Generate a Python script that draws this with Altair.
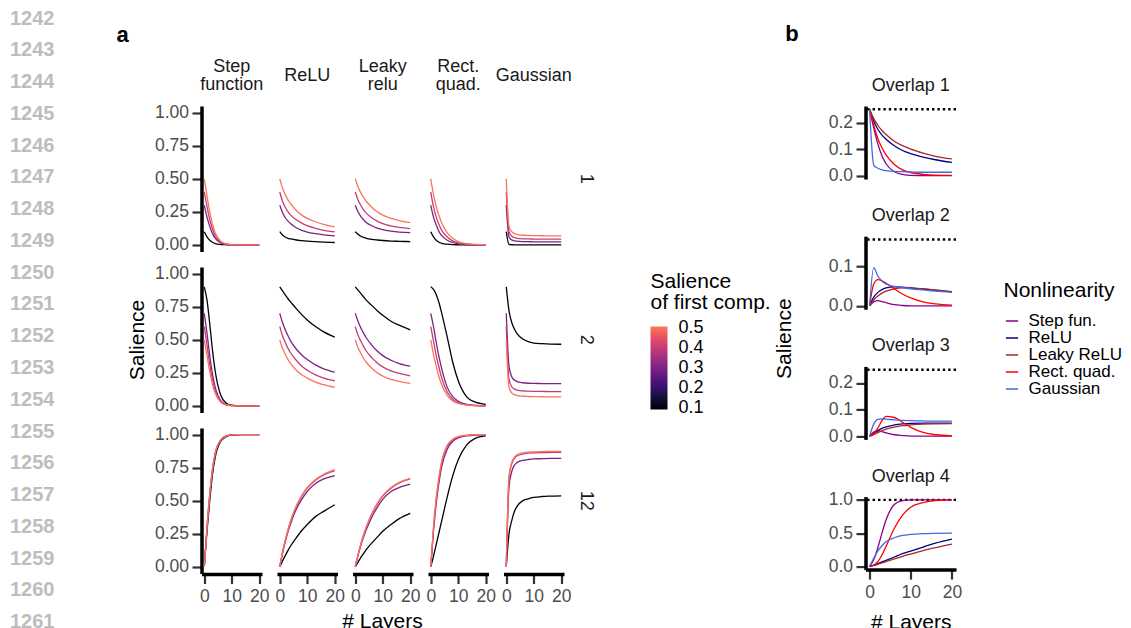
import altair as alt
import pandas as pd

# ---------------- data ----------------
LAYERS = [0, 1, 2, 3, 4, 6, 8, 10, 13, 16, 20]
FIRST_SALIENCE = [0.1, 0.3, 0.4, 0.5]
ZW = "\u200b"  # zero-width filler line so every header label is three lines tall
NONLIN_A = [f"Step|{ZW}|function", f"{ZW}|ReLU|{ZW}", f"Leaky|{ZW}|relu",
            f"Rect.|{ZW}|quad.", f"{ZW}|Gaussian|{ZW}"]
OVERLAP_A = ["1", "2", "12"]
LINE_NUMBERS = list(range(1242, 1262))

# each panel: one list per first-component salience (0.1, 0.3, 0.4, 0.5)
step_1 = [[0.10, 0.06, 0.035, 0.02, 0.01, 0.003, 0.001, 0, 0, 0, 0],
          [0.30, 0.21, 0.14, 0.085, 0.05, 0.015, 0.004, 0.001, 0, 0, 0],
          [0.40, 0.29, 0.19, 0.12, 0.07, 0.02, 0.005, 0.001, 0, 0, 0],
          [0.50, 0.37, 0.25, 0.155, 0.09, 0.028, 0.007, 0.002, 0, 0, 0]]
relu_1 = [[0.10, 0.075, 0.06, 0.05, 0.045, 0.037, 0.032, 0.028, 0.024, 0.021, 0.018],
          [0.30, 0.245, 0.205, 0.18, 0.16, 0.13, 0.11, 0.097, 0.085, 0.076, 0.068],
          [0.40, 0.33, 0.285, 0.25, 0.225, 0.19, 0.165, 0.145, 0.125, 0.11, 0.098],
          [0.50, 0.43, 0.38, 0.34, 0.31, 0.26, 0.225, 0.20, 0.175, 0.155, 0.136]]
leaky_1 = [[0.10, 0.08, 0.065, 0.056, 0.05, 0.042, 0.037, 0.033, 0.029, 0.027, 0.025],
           [0.30, 0.25, 0.215, 0.19, 0.17, 0.145, 0.127, 0.115, 0.104, 0.097, 0.093],
           [0.40, 0.34, 0.30, 0.265, 0.24, 0.205, 0.18, 0.16, 0.143, 0.132, 0.123],
           [0.50, 0.44, 0.395, 0.36, 0.33, 0.285, 0.25, 0.225, 0.20, 0.183, 0.168]]
rect_1 = [[0.10, 0.06, 0.035, 0.02, 0.012, 0.005, 0.002, 0.001, 0, 0, 0],
          [0.30, 0.21, 0.15, 0.10, 0.07, 0.035, 0.018, 0.008, 0.003, 0.001, 0],
          [0.40, 0.29, 0.21, 0.155, 0.11, 0.06, 0.03, 0.015, 0.006, 0.002, 0],
          [0.50, 0.38, 0.29, 0.22, 0.165, 0.09, 0.05, 0.025, 0.01, 0.004, 0.001]]
gauss_1 = [[0.10, 0.003, 0.001, 0, 0, 0, 0, 0, 0, 0, 0],
           [0.30, 0.06, 0.038, 0.031, 0.028, 0.025, 0.024, 0.023, 0.023, 0.023, 0.023],
           [0.40, 0.10, 0.065, 0.055, 0.05, 0.046, 0.045, 0.044, 0.043, 0.043, 0.043],
           [0.50, 0.14, 0.10, 0.085, 0.078, 0.073, 0.071, 0.07, 0.069, 0.068, 0.068]]

step_2 = [[0.90, 0.80, 0.62, 0.42, 0.26, 0.08, 0.02, 0.005, 0, 0, 0],
          [0.70, 0.55, 0.38, 0.24, 0.14, 0.04, 0.01, 0.002, 0, 0, 0],
          [0.60, 0.46, 0.31, 0.20, 0.115, 0.033, 0.008, 0.002, 0, 0, 0],
          [0.50, 0.38, 0.26, 0.16, 0.095, 0.027, 0.007, 0.002, 0, 0, 0]]
relu_2 = [[0.90, 0.87, 0.84, 0.81, 0.785, 0.735, 0.69, 0.65, 0.60, 0.56, 0.52],
          [0.70, 0.63, 0.575, 0.53, 0.49, 0.43, 0.385, 0.35, 0.31, 0.28, 0.255],
          [0.60, 0.53, 0.48, 0.435, 0.40, 0.345, 0.30, 0.27, 0.235, 0.21, 0.19],
          [0.50, 0.435, 0.39, 0.35, 0.32, 0.27, 0.235, 0.21, 0.18, 0.16, 0.14]]
leaky_2 = [[0.90, 0.875, 0.85, 0.825, 0.80, 0.76, 0.72, 0.685, 0.64, 0.61, 0.575],
           [0.70, 0.64, 0.59, 0.55, 0.515, 0.46, 0.415, 0.38, 0.345, 0.32, 0.30],
           [0.60, 0.535, 0.49, 0.45, 0.415, 0.365, 0.325, 0.295, 0.265, 0.245, 0.227],
           [0.50, 0.44, 0.40, 0.36, 0.33, 0.285, 0.25, 0.225, 0.20, 0.185, 0.17]]
rect_2 = [[0.90, 0.88, 0.84, 0.78, 0.70, 0.52, 0.33, 0.19, 0.07, 0.03, 0.012],
          [0.70, 0.60, 0.48, 0.37, 0.28, 0.14, 0.07, 0.035, 0.012, 0.004, 0.001],
          [0.60, 0.49, 0.38, 0.29, 0.21, 0.105, 0.05, 0.025, 0.008, 0.003, 0],
          [0.50, 0.39, 0.30, 0.22, 0.16, 0.08, 0.038, 0.018, 0.006, 0.002, 0]]
gauss_2 = [[0.90, 0.72, 0.63, 0.58, 0.545, 0.505, 0.485, 0.475, 0.47, 0.467, 0.466],
           [0.70, 0.30, 0.22, 0.195, 0.183, 0.175, 0.171, 0.17, 0.169, 0.168, 0.168],
           [0.60, 0.20, 0.145, 0.127, 0.119, 0.113, 0.111, 0.11, 0.109, 0.108, 0.108],
           [0.50, 0.14, 0.098, 0.085, 0.078, 0.073, 0.071, 0.07, 0.069, 0.068, 0.068]]

step_12 = [[0, 0.27, 0.50, 0.70, 0.83, 0.95, 0.985, 0.997, 1, 1, 1],
           [0, 0.29, 0.54, 0.73, 0.855, 0.958, 0.99, 0.998, 1, 1, 1],
           [0, 0.30, 0.55, 0.74, 0.86, 0.96, 0.99, 0.998, 1, 1, 1],
           [0, 0.30, 0.55, 0.74, 0.86, 0.96, 0.99, 0.998, 1, 1, 1]]
relu_12 = [[0, 0.045, 0.085, 0.125, 0.16, 0.22, 0.275, 0.32, 0.38, 0.42, 0.47],
           [0, 0.10, 0.19, 0.265, 0.33, 0.435, 0.51, 0.57, 0.63, 0.665, 0.69],
           [0, 0.11, 0.20, 0.28, 0.35, 0.455, 0.535, 0.595, 0.655, 0.695, 0.728],
           [0, 0.11, 0.20, 0.28, 0.35, 0.46, 0.54, 0.60, 0.66, 0.70, 0.735]]
leaky_12 = [[0, 0.035, 0.07, 0.10, 0.13, 0.18, 0.225, 0.27, 0.32, 0.365, 0.405],
            [0, 0.085, 0.16, 0.225, 0.28, 0.375, 0.45, 0.51, 0.57, 0.60, 0.625],
            [0, 0.09, 0.17, 0.24, 0.30, 0.40, 0.475, 0.535, 0.595, 0.635, 0.665],
            [0, 0.09, 0.17, 0.24, 0.30, 0.40, 0.48, 0.54, 0.60, 0.64, 0.67]]
rect_12 = [[0, 0.08, 0.17, 0.26, 0.35, 0.53, 0.69, 0.81, 0.92, 0.97, 0.99],
           [0, 0.27, 0.48, 0.64, 0.76, 0.89, 0.95, 0.975, 0.99, 0.997, 1],
           [0, 0.29, 0.51, 0.67, 0.79, 0.91, 0.96, 0.982, 0.994, 0.998, 1],
           [0, 0.30, 0.52, 0.68, 0.80, 0.92, 0.965, 0.985, 0.995, 1, 1]]
gauss_12 = [[0, 0.25, 0.35, 0.42, 0.46, 0.50, 0.515, 0.525, 0.532, 0.535, 0.537],
            [0, 0.60, 0.72, 0.77, 0.79, 0.805, 0.812, 0.816, 0.818, 0.82, 0.82],
            [0, 0.67, 0.78, 0.82, 0.84, 0.853, 0.86, 0.862, 0.864, 0.865, 0.866],
            [0, 0.68, 0.79, 0.83, 0.85, 0.862, 0.868, 0.87, 0.872, 0.873, 0.874]]

PANELS_A = {
    "1": [step_1, relu_1, leaky_1, rect_1, gauss_1],
    "2": [step_2, relu_2, leaky_2, rect_2, gauss_2],
    "12": [step_12, relu_12, leaky_12, rect_12, gauss_12],
}

# panel b: one list per nonlinearity
NONLIN_B = ["Step fun.", "ReLU", "Leaky ReLU", "Rect. quad.", "Gaussian"]
COLORS_B = ["#8B008B", "#00008B", "#A52A2A", "#FF0000", "#4169E1"]
overlap1_b = [[0.25, 0.18, 0.12, 0.075, 0.045, 0.015, 0.005, 0.001, 0, 0, 0],
              [0.25, 0.205, 0.175, 0.153, 0.137, 0.113, 0.095, 0.083, 0.07, 0.06, 0.05],
              [0.25, 0.215, 0.19, 0.17, 0.155, 0.13, 0.113, 0.1, 0.085, 0.073, 0.063],
              [0.25, 0.19, 0.14, 0.105, 0.078, 0.042, 0.022, 0.012, 0.005, 0.002, 0.001],
              [0.25, 0.04, 0.028, 0.022, 0.019, 0.016, 0.015, 0.014, 0.013, 0.013, 0.013]]
overlap2_b = [[0, 0.01, 0.013, 0.011, 0.008, 0.003, 0.001, 0, 0, 0, 0],
              [0, 0.022, 0.034, 0.041, 0.045, 0.048, 0.047, 0.045, 0.042, 0.039, 0.035],
              [0, 0.015, 0.025, 0.032, 0.037, 0.043, 0.045, 0.045, 0.043, 0.04, 0.036],
              [0, 0.055, 0.066, 0.063, 0.057, 0.043, 0.03, 0.02, 0.01, 0.005, 0.002],
              [0, 0.096, 0.075, 0.062, 0.055, 0.049, 0.046, 0.043, 0.04, 0.037, 0.034]]
overlap3_b = [[0, 0.015, 0.02, 0.017, 0.012, 0.005, 0.002, 0, 0, 0, 0],
              [0, 0.008, 0.02, 0.029, 0.035, 0.042, 0.046, 0.048, 0.049, 0.049, 0.049],
              [0, 0.005, 0.013, 0.02, 0.026, 0.034, 0.039, 0.042, 0.045, 0.046, 0.047],
              [0, 0.008, 0.03, 0.058, 0.074, 0.07, 0.052, 0.033, 0.014, 0.005, 0.001],
              [0, 0.045, 0.063, 0.065, 0.064, 0.061, 0.059, 0.058, 0.057, 0.056, 0.056]]
overlap4_b = [[0, 0.1, 0.28, 0.5, 0.7, 0.93, 0.99, 1, 1, 1, 1],
              [0, 0.015, 0.04, 0.065, 0.09, 0.14, 0.19, 0.23, 0.29, 0.35, 0.41],
              [0, 0.012, 0.03, 0.05, 0.07, 0.11, 0.15, 0.185, 0.235, 0.28, 0.335],
              [0, 0.02, 0.07, 0.17, 0.3, 0.57, 0.77, 0.89, 0.96, 0.99, 1],
              [0, 0.12, 0.23, 0.31, 0.37, 0.43, 0.465, 0.48, 0.492, 0.497, 0.5]]
OVERLAP_B = [overlap1_b, overlap2_b, overlap3_b, overlap4_b]
REF_LEVEL_B = [0.25, 0.1667, 0.25, 1.0]
Y_DOMAIN_B = [[-0.0125, 0.2625], [-0.0083, 0.175], [-0.0125, 0.2625], [-0.05, 1.05]]
Y_TICKS_B = [[0, 0.1, 0.2], [0, 0.1], [0, 0.1, 0.2], [0, 0.5, 1.0]]
TITLE_OFFSET_B = [11, 11, 11, 4.5]

FONT = "Liberation Sans"

# ---------------- tables ----------------
rows = []
for ov in OVERLAP_A:
    for nl, panel in zip(NONLIN_A, PANELS_A[ov]):
        for s, series in zip(FIRST_SALIENCE, panel):
            for L, v in zip(LAYERS, series):
                rows.append({"overlap": ov, "nl": nl, "s0": s, "layer": L, "sal": v})
df_a = pd.DataFrame(rows)

# ---------------- line numbers ----------------
ln = pd.DataFrame({"n": LINE_NUMBERS, "c": [0] * len(LINE_NUMBERS)})
linenums = alt.Chart(ln).mark_text(
    align="left", baseline="middle", fontSize=20, fontWeight="bold",
    color="#BDBDBD", font=FONT, dx=2
).encode(
    x=alt.X("c:Q", scale=alt.Scale(domain=[0, 1]), axis=None),
    y=alt.Y("n:Q", scale=alt.Scale(domain=[1244.754, 1259.453], reverse=True,
                                   nice=False, zero=False), axis=None),
    text="n:N",
).properties(width=48, height=467)

# ---------------- panel a ----------------
lines_a = alt.Chart(df_a).mark_line(strokeWidth=1.3, interpolate="monotone").encode(
    x=alt.X("layer:Q", scale=alt.Scale(domain=[-1, 21], nice=False, zero=False),
            axis=alt.Axis(values=[0, 10, 20], title=None)),
    y=alt.Y("sal:Q", scale=alt.Scale(domain=[-0.05, 1.05], nice=False),
            axis=alt.Axis(values=[0, 0.25, 0.5, 0.75, 1.0], format=".2f", title=None)),
    color=alt.Color("s0:Q",
                    scale=alt.Scale(scheme=alt.SchemeParams(name="magma", extent=[0, 0.72]),
                                    domain=[0.095, 0.505]),
                    legend=alt.Legend(title=["Salience", "of first comp."], orient="none",
                                      legendX=449, legendY=164.5, direction="vertical",
                                      gradientLength=83, gradientThickness=17,
                                      values=[0.1, 0.2, 0.3, 0.4, 0.5], format=".1f",
                                      labelOverlap=False, titlePadding=14,
                                      labelBaseline="middle", labelOffset=11)),
    order=alt.Order("layer:Q"),
).properties(width=60.5, height=145.5)

panel_a = lines_a.facet(
    row=alt.Row("overlap:N", sort=OVERLAP_A,
                header=alt.Header(title="Salience", titleOrient="left", titleFontSize=21,
                                  titleColor="black", titleFontWeight="normal",
                                  titlePadding=-4,
                                  labelOrient="right", labelAngle=90,
                                  labelAlign="center", labelBaseline="middle",
                                  labelPadding=3.5, labelFontSize=18, labelColor="#1A1A1A")),
    column=alt.Column("nl:N", sort=NONLIN_A,
                      header=alt.Header(title="# Layers", titleOrient="bottom",
                                        titleFontSize=21, titleColor="black",
                                        titleFontWeight="normal", titlePadding=-4.5,
                                        labelOrient="top",
                                        labelExpr="split(datum.label, '|')",
                                        labelBaseline="middle", labelPadding=3.5,
                                        labelLineHeight=9,
                                        labelFontSize=18, labelColor="#1A1A1A")),
    spacing={"row": 15, "column": 14.5},
).properties(title=alt.TitleParams(["", "a"], anchor="start", frame="bounds",
                                   fontSize=22, fontWeight="bold", color="black",
                                   lineHeight=9, dx=-10, offset=10.9))

# ---------------- panel b ----------------
def panel_b(i):
    rows_b = []
    for nl, series in zip(NONLIN_B, OVERLAP_B[i]):
        for L, v in zip(LAYERS, series):
            rows_b.append({"nl": nl, "layer": L, "sal": v})
    d = pd.DataFrame(rows_b)
    last = i == len(OVERLAP_B) - 1
    xax = alt.Axis(values=[0, 10, 20], title="# Layers", titlePadding=10.7) if last else None
    yscale = alt.Scale(domain=Y_DOMAIN_B[i], nice=False, zero=False)
    yaxis = alt.Axis(values=Y_TICKS_B[i], format=".1f", title=None)
    lines = alt.Chart(d).mark_line(strokeWidth=1.3, interpolate="monotone").encode(
        x=alt.X("layer:Q", scale=alt.Scale(domain=[-1, 21], nice=False, zero=False), axis=xax),
        y=alt.Y("sal:Q", scale=yscale, axis=yaxis),
        color=alt.Color("nl:N", scale=alt.Scale(domain=NONLIN_B, range=COLORS_B),
                        legend=alt.Legend(title="Nonlinearity", orient="none",
                                          legendX=138, legendY=173.5,
                                          symbolType="stroke", symbolSize=150,
                                          symbolStrokeWidth=1.5, rowPadding=-1.7,
                                          labelFontSize=17, titlePadding=12,
                                          labelOffset=8)),
        order=alt.Order("layer:Q"),
    )
    rule = alt.Chart(pd.DataFrame({"sal": [REF_LEVEL_B[i]]})).mark_rule(
        color="black", strokeWidth=2.4, strokeDash=[2.4, 3]
    ).encode(y=alt.Y("sal:Q", scale=yscale, axis=yaxis))
    return alt.layer(rule, lines).properties(
        width=90.5, height=73,
        title=alt.TitleParams(f"Overlap {i + 1}", fontSize=18, color="#1A1A1A",
                              offset=TITLE_OFFSET_B[i]))

panel_b_inner = alt.vconcat(*[panel_b(i) for i in range(4)], spacing=22.2).properties(
    title=alt.TitleParams("Salience", orient="left", anchor="middle", fontSize=21,
                          fontWeight="normal", color="black", offset=33, dx=16)
)
panel_b_all = alt.vconcat(panel_b_inner).properties(
    title=alt.TitleParams(["", "b"], anchor="start", frame="bounds", fontSize=22,
                          fontWeight="bold", color="black", lineHeight=9, dx=11, offset=31.4)
)

inner = alt.hconcat(panel_a, panel_b_all, spacing=2).resolve_scale(
    color="independent").resolve_legend(color="independent")

chart = alt.hconcat(linenums, inner, spacing=59.5).properties(
    padding={"left": 0, "right": 0, "top": 0, "bottom": 0}
).configure(font=FONT).configure_view(stroke=None).configure_axis(
    domainColor="black", domainWidth=3.5, tickColor="#333333", tickWidth=2.2, tickSize=9.5,
    labelColor="#4D4D4D", labelFontSize=17.5, labelPadding=3.5, titleFontSize=21,
    titleFontWeight="normal", titleColor="black", grid=False, labelFont=FONT, titleFont=FONT,
).configure_axisX(labelPadding=4).configure_header(
    labelFont=FONT, titleFont=FONT
).configure_legend(
    titleFontSize=21, titleFontWeight="normal", titleColor="black", titleFont=FONT,
    labelFontSize=18, labelColor="black", labelFont=FONT, titleLineHeight=21,
).configure_title(font=FONT, fontWeight="normal")

chart.save("out.html", embed_options={"renderer": "svg", "actions": False})
